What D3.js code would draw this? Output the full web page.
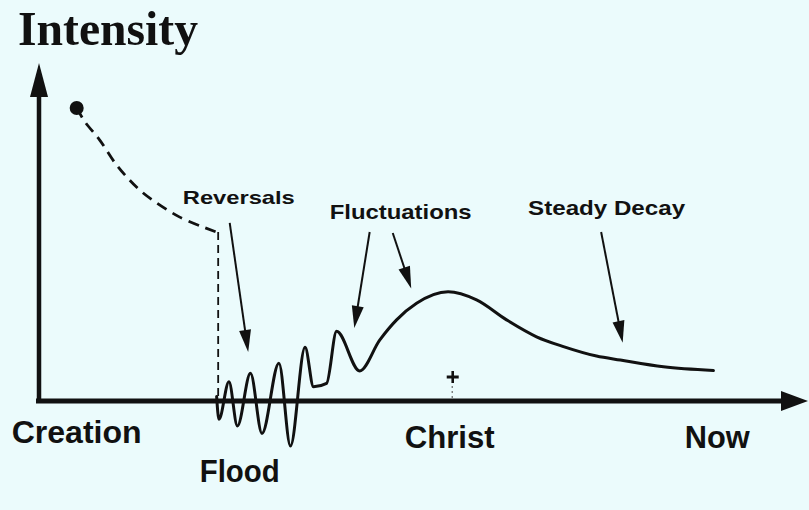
<!DOCTYPE html>
<html>
<head>
<meta charset="utf-8">
<script src="https://cdn.jsdelivr.net/npm/d3@7/dist/d3.min.js"></script>
<style>
  html, body { margin: 0; padding: 0; background: #ebfbfc; }
  svg { display: block; }
</style>
</head>
<body>
<svg id="chart" width="809" height="510"></svg>
<script>
// ---------- DATA (time units 0..100 along the axis, intensity units 0..100) ----------
// Pre-flood dashed decay from creation
const creationT = [4.9, 6.0, 7.9, 9.9, 11.4, 13.1, 15.3, 18.3, 21.3, 23.3];
const creationV = [86.7, 82.5, 77.2, 70.4, 66.3, 62.4, 58.6, 54.4, 51.5, 50.0];
// Flood drop time
const floodT = 23.3;
// Solid intensity curve (reversals, fluctuations, steady decay)
const intensityT = [23.1, 23.4, 24.7, 25.8, 27.5, 29.0, 31.2, 32.7, 34.6, 35.7, 37.4, 38.7, 41.7,
                    44.3, 46.5, 49.1, 53.2, 56.9, 60.8, 64.7, 68.2, 72.5, 75.6, 81.2, 87.7];
const intensityV = [1.3, -5.4, 5.7, -7.4, 8.2, -9.6, 11.2, -13.3, 15.9, 4.2, 5.2, 20.6, 8.9,
                    18.0, 24.0, 28.9, 32.3, 29.9, 24.0, 19.0, 16.1, 13.3, 12.1, 10.1, 9.0];
// Axis event labels
const eventLabels = ["Creation", "Flood", "Christ", "Now"];
const eventT = [4.9, 26.1, 53.4, 88.2];
// Christ marker
const christT = 53.8;
const christV = 7.1;
// Annotations
const noteLabels = ["Reversals", "Fluctuations", "Steady Decay"];
const noteT = [18.7, 37.8, 63.6];
const noteV = [58.3, 53.8, 55.0];
const arrowFromT = [24.8, 43.0, 46.0, 73.1];
const arrowFromV = [52.7, 50.0, 49.7, 50.0];
const arrowToT = [27.2, 41.0, 48.4, 75.9];
const arrowToV = [14.5, 21.6, 33.3, 17.2];
const axisTitle = "Intensity";

// ---------- LAYOUT ----------
const W = 809, H = 510;
const ink = "#111";
const svg = d3.select("#chart");
svg.append("rect").attr("width", W).attr("height", H).attr("fill", "#ebfbfc");

const x = d3.scaleLinear().domain([0, 100]).range([39, 808]);
const y = d3.scaleLinear().domain([0, 100]).range([401, 63]);

// Axes with arrowheads
svg.append("line")
  .attr("x1", x(0)).attr("y1", y(0) + 2)
  .attr("x2", x(0)).attr("y2", y(100) + 28)
  .attr("stroke", ink).attr("stroke-width", 4.5);
svg.append("path")
  .attr("d", `M${x(0)},${y(100)} L${x(0) - 9},${y(100) + 34} L${x(0) + 9},${y(100) + 34} Z`)
  .attr("fill", ink);
svg.append("line")
  .attr("x1", x(0) - 3).attr("y1", y(0))
  .attr("x2", x(100) - 22).attr("y2", y(0))
  .attr("stroke", ink).attr("stroke-width", 5);
svg.append("path")
  .attr("d", `M${x(100)},${y(0)} L${x(100) - 27},${y(0) - 10} L${x(100) - 27},${y(0) + 10} Z`)
  .attr("fill", ink);

// Axis title
svg.append("text")
  .attr("x", 18).attr("y", 45)
  .attr("font-family", "'Liberation Serif', 'Times New Roman', serif")
  .attr("font-weight", "bold").attr("font-size", 49)
  .attr("textLength", 180).attr("lengthAdjust", "spacingAndGlyphs")
  .attr("fill", ink).text(axisTitle);

// Creation dot
svg.append("circle")
  .attr("cx", x(creationT[0])).attr("cy", y(creationV[0]))
  .attr("r", 7).attr("fill", ink);

// Dashed pre-flood curve
const dashedPts = creationT.map((t, i) => [x(t), y(creationV[i])]);
svg.append("path")
  .attr("d", d3.line().curve(d3.curveCatmullRom.alpha(0.5))(dashedPts.slice(0, -1)) +
             `L${x(floodT) - 2},${y(creationV[creationV.length - 1])}`)
  .attr("fill", "none").attr("stroke", ink).attr("stroke-width", 2.8)
  .attr("stroke-dasharray", "11 7");
// Vertical flood drop
svg.append("line")
  .attr("x1", x(floodT)).attr("y1", y(creationV[creationV.length - 1]))
  .attr("x2", x(floodT)).attr("y2", y(0))
  .attr("stroke", ink).attr("stroke-width", 1.8)
  .attr("stroke-dasharray", "8 5");

// Solid intensity curve
const curvePts = intensityT.map((t, i) => [x(t), y(intensityV[i])]);
svg.append("path")
  .attr("d", d3.line().curve(d3.curveMonotoneX)(curvePts))
  .attr("fill", "none").attr("stroke", ink).attr("stroke-width", 3)
  .attr("stroke-linejoin", "round").attr("stroke-linecap", "round");

// Christ marker
const cx = x(christT), cy = y(christV);
svg.append("line").attr("x1", cx - 6).attr("x2", cx + 6).attr("y1", cy).attr("y2", cy)
  .attr("stroke", ink).attr("stroke-width", 3);
svg.append("line").attr("x1", cx).attr("x2", cx).attr("y1", cy - 6).attr("y2", cy + 6)
  .attr("stroke", ink).attr("stroke-width", 2.6);
svg.append("line").attr("x1", cx - 0.5).attr("x2", cx - 0.5).attr("y1", cy + 9).attr("y2", y(0))
  .attr("stroke", "#666").attr("stroke-width", 1.2).attr("stroke-dasharray", "2 3");

// Event labels along the time axis
const eventDy = [42, 81, 47, 47];
const eventSize = [31, 32, 31, 31];
const eventWidth = [130, 80, 90, 65];
eventLabels.forEach((lab, i) => {
  svg.append("text")
    .attr("x", x(eventT[i]) - eventWidth[i] / 2).attr("y", y(0) + eventDy[i])
    .attr("font-family", "'Liberation Sans', Arial, sans-serif")
    .attr("font-weight", "bold").attr("font-size", eventSize[i])
    .attr("textLength", eventWidth[i]).attr("lengthAdjust", "spacingAndGlyphs")
    .attr("fill", ink).text(lab);
});

// Annotation labels
const noteSize = [19, 21, 21];
const noteWidth = [112, 142, 157];
noteLabels.forEach((lab, i) => {
  svg.append("text")
    .attr("x", x(noteT[i])).attr("y", y(noteV[i]))
    .attr("font-family", "'Liberation Sans', Arial, sans-serif")
    .attr("font-weight", "bold").attr("font-size", noteSize[i])
    .attr("textLength", noteWidth[i]).attr("lengthAdjust", "spacingAndGlyphs")
    .attr("fill", ink).text(lab);
});

// Annotation arrows
arrowFromT.forEach((t, i) => {
  const x1 = x(t), y1 = y(arrowFromV[i]);
  const x2 = x(arrowToT[i]), y2 = y(arrowToV[i]);
  const dx = x2 - x1, dy = y2 - y1, L = Math.hypot(dx, dy);
  const ux = dx / L, uy = dy / L, px = -uy, py = ux;
  const hl = 22, hw = 6;
  const bx = x2 - ux * hl, by = y2 - uy * hl;
  svg.append("line").attr("x1", x1).attr("y1", y1).attr("x2", bx + ux * 2).attr("y2", by + uy * 2)
    .attr("stroke", ink).attr("stroke-width", 2);
  svg.append("path")
    .attr("d", `M${x2},${y2} L${bx + px * hw},${by + py * hw} L${bx - px * hw},${by - py * hw} Z`)
    .attr("fill", ink);
});
</script>
</body>
</html>
